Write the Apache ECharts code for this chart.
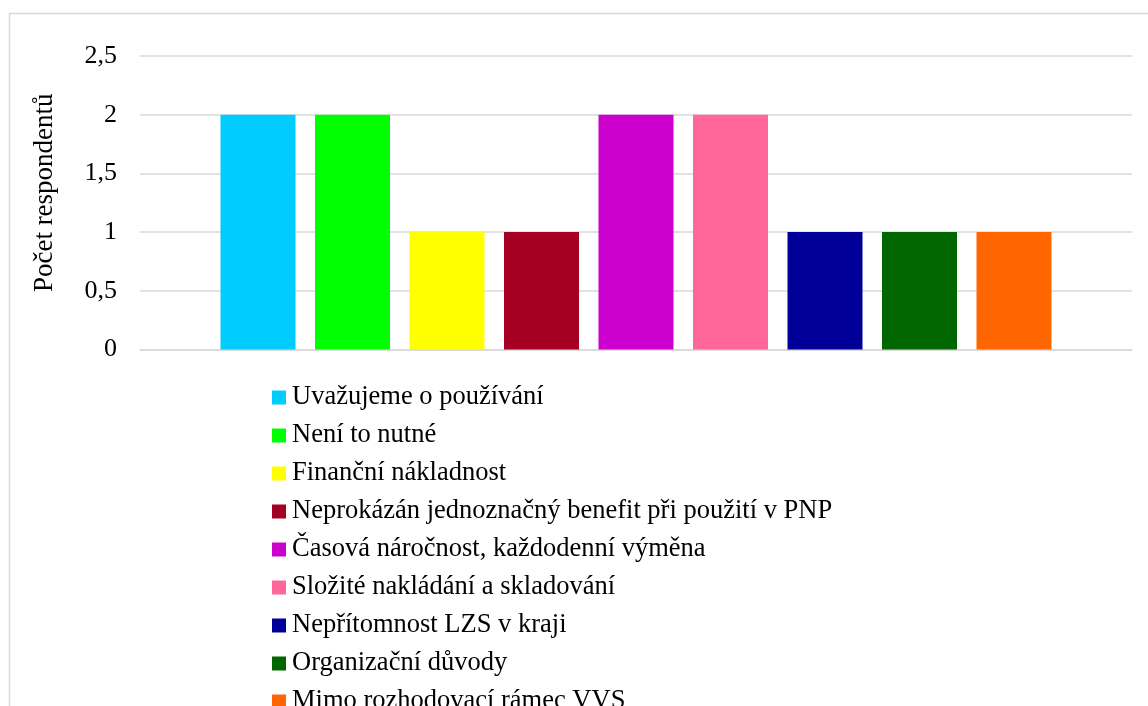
<!DOCTYPE html>
<html>
<head>
<meta charset="utf-8">
<script src="https://cdn.jsdelivr.net/npm/echarts@6/dist/echarts.min.js"></script>
<style>
  html, body { margin: 0; padding: 0; background: #fff; }
  #chart { width: 1148px; height: 706px; }
</style>
</head>
<body>
<div id="chart"></div>
<script>
// Důvody nepoužívání – počet respondentů
const seriesNames = [
  'Uvažujeme o používání',
  'Není to nutné',
  'Finanční nákladnost',
  'Neprokázán jednoznačný benefit při použití v PNP',
  'Časová náročnost, každodenní výměna',
  'Složité nakládání a skladování',
  'Nepřítomnost LZS v kraji',
  'Organizační důvody',
  'Mimo rozhodovací rámec VVS'
];
const seriesValues = [2, 2, 1, 1, 2, 2, 1, 1, 1];
const seriesColors = ['#00CCFF', '#00FF00', '#FFFF00', '#A50021', '#CC00CC', '#FF6699', '#000099', '#006600', '#FF6600'];
const yAxisTitle = 'Počet respondentů';

const fontFamily = '"Liberation Serif", "Times New Roman", serif';

const chart = echarts.init(document.getElementById('chart'), null, { renderer: 'canvas' });

const series = seriesNames.map((name, i) => ({
  name: name,
  type: 'bar',
  data: [seriesValues[i]],
  barWidth: 75,
  barGap: '26%',
  itemStyle: { color: seriesColors[i] },
  emphasis: { disabled: true }
}));

chart.setOption({
  animation: false,
  backgroundColor: '#fff',
  textStyle: { fontFamily: fontFamily },
  graphic: [{
    type: 'rect',
    shape: { x: 9.5, y: 13.5, width: 1300, height: 900 },
    style: { fill: null, stroke: '#d9d9d9', lineWidth: 1.5 },
    silent: true,
    z: -1
  }],
  grid: { left: 140, right: 16, top: 56, height: 293.5 },
  legend: {
    orient: 'vertical',
    left: 272,
    top: 384,
    height: 420,
    padding: 0,
    itemWidth: 14,
    itemHeight: 14,
    itemGap: 11,
    icon: 'rect',
    textStyle: { fontFamily: fontFamily, fontSize: 26.5, color: '#000', lineHeight: 26, height: 26, padding: [0, 0, 0, 1] },
    data: seriesNames
  },
  xAxis: {
    type: 'category',
    data: [''],
    axisLine: { show: true, lineStyle: { color: '#d9d9d9', width: 1.5 } },
    axisTick: { show: false },
    axisLabel: { show: false }
  },
  yAxis: {
    type: 'value',
    min: 0,
    max: 2.5,
    interval: 0.5,
    name: yAxisTitle,
    nameLocation: 'middle',
    nameGap: 82,
    nameRotate: 90,
    nameTextStyle: { fontFamily: fontFamily, fontSize: 27, color: '#000', padding: [0, 0, 0, 20] },
    axisLine: { show: false },
    axisTick: { show: false },
    axisLabel: {
      fontFamily: fontFamily,
      fontSize: 26,
      color: '#000',
      margin: 23,
      formatter: v => String(v).replace('.', ',')
    },
    splitLine: { lineStyle: { color: '#d9d9d9', width: 1.5 } }
  },
  series: series
});
</script>
</body>
</html>
